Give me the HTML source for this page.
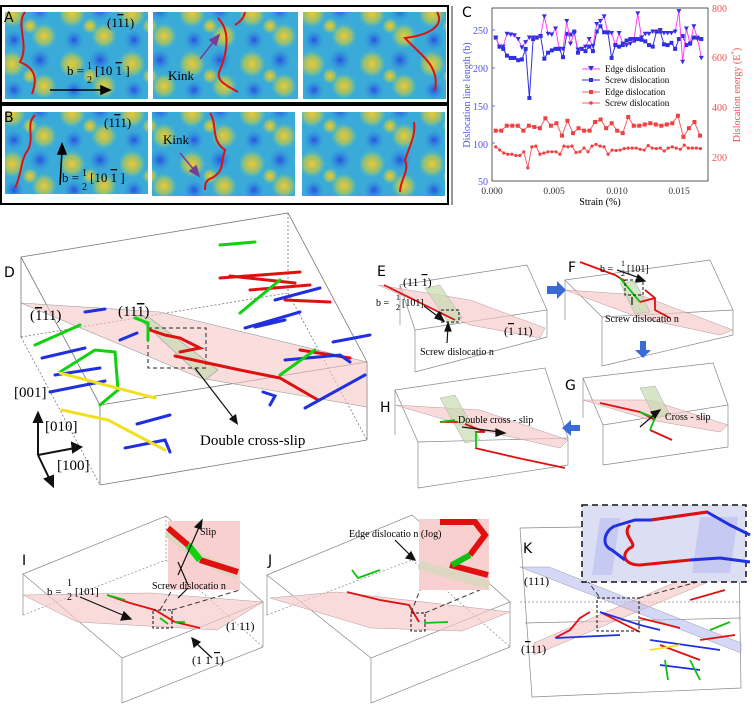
<!DOCTYPE html>
<html><head><meta charset="utf-8"><style>
html,body{margin:0;padding:0;background:#fff;}
svg{display:block;font-family:"Liberation Serif",serif;}
.lab{font-family:"DejaVu Sans","Liberation Sans",sans-serif;font-size:14px;}
</style></head><body>
<svg width="754" height="705" viewBox="0 0 754 705" xmlns="http://www.w3.org/2000/svg">
<defs>
<radialGradient id="y1" cx="50%" cy="50%" r="50%"><stop offset="0" stop-color="#f2c830"/><stop offset="0.6" stop-color="#b8c850" stop-opacity="0.7"/><stop offset="1" stop-color="#5ec8b0" stop-opacity="0"/></radialGradient>
<radialGradient id="b1" cx="50%" cy="50%" r="50%"><stop offset="0" stop-color="#2a4ee0"/><stop offset="1" stop-color="#2a8ee0" stop-opacity="0"/></radialGradient>
<pattern id="terr" width="60" height="50" patternUnits="userSpaceOnUse">
<rect width="60" height="50" fill="#3aaad8"/>
<circle cx="12" cy="14" r="14" fill="url(#y1)"/><circle cx="44" cy="36" r="13" fill="url(#y1)"/>
<circle cx="40" cy="10" r="11" fill="url(#b1)"/><circle cx="14" cy="40" r="10" fill="url(#b1)"/>
<circle cx="30" cy="26" r="8" fill="url(#y1)"/>
</pattern>
</defs>
<!-- A/B frames -->
<rect x="1" y="6" width="447" height="97" fill="none" stroke="#000" stroke-width="2"/>
<rect x="1" y="105" width="447" height="99" fill="none" stroke="#000" stroke-width="2"/>
<rect x="5" y="12" width="143" height="87" fill="url(#terr)"/>
<rect x="153" y="12" width="145" height="87" fill="url(#terr)"/>
<rect x="303" y="12" width="143" height="87" fill="url(#terr)"/>
<rect x="5" y="112" width="143" height="82" fill="url(#terr)"/>
<rect x="152" y="112" width="143" height="84" fill="url(#terr)"/>
<rect x="302" y="112" width="143" height="84" fill="url(#terr)"/>
<g fill="none" stroke="#e01010" stroke-width="2">
<path d="M25,12 C15,25 30,45 20,62 C40,70 35,85 32,94"/>
<path d="M218,18 C230,30 228,50 220,70 C215,80 225,85 238,92"/>
<path d="M245,12 C244,18 240,22 235,25"/>
<path d="M437,12 C445,25 430,35 405,38 C420,55 440,65 435,90"/>
<path d="M35,115 C25,125 35,135 28,150 C20,160 22,175 15,188"/>
<path d="M210,113 C218,125 210,140 225,150 C220,165 225,170 212,178 C205,180 205,185 205,190"/>
<path d="M414,122 C416,135 410,145 405,160 C410,170 400,180 400,192"/>
</g>
<g font-size="13">
<text x="4" y="22" class="lab" font-size="13">A</text>
<text x="4" y="122" class="lab" font-size="13">B</text>
<text x="107" y="27">(1<tspan text-decoration="overline">1</tspan>1)</text>
<text x="104" y="127">(1<tspan text-decoration="overline">1</tspan>1)</text>
<text x="168" y="80">Kink</text>
<text x="163" y="144">Kink</text>
<text x="67" y="75">b = </text><text x="87" y="69" font-size="10">1</text><text x="87" y="83" font-size="10">2</text><text x="95" y="75">[10 <tspan text-decoration="overline">1</tspan> ]</text>
<text x="62" y="182">b = </text><text x="82" y="176" font-size="10">1</text><text x="82" y="190" font-size="10">2</text><text x="90" y="182">[10 <tspan text-decoration="overline">1</tspan> ]</text>
</g>
<g stroke="#000" stroke-width="1.5" fill="#000">
<line x1="50" y1="90" x2="105" y2="90"/><polygon points="110,90 101,86 101,94"/>
<line x1="60" y1="185" x2="62" y2="150"/><polygon points="62,144 58,154 66,154"/>
</g>
<g stroke="#7a3a9a" stroke-width="1.5" fill="#7a3a9a">
<line x1="200" y1="59" x2="215" y2="40"/><polygon points="219,35 210,40 216,45"/>
<line x1="180" y1="153" x2="195" y2="171"/><polygon points="199,176 190,171 196,166"/>
</g>

<!-- Chart C -->
<g id="chart">
<line x1="452" y1="6" x2="452" y2="205" stroke="#333" stroke-width="1"/>
<text x="462" y="17" class="lab" font-size="13">C</text>
<rect x="492" y="8" width="216" height="173" fill="none" stroke="#333" stroke-width="0.8"/>
<g font-size="10" fill="#5050f0" text-anchor="end">
<text x="488" y="34">250</text><text x="488" y="72">200</text><text x="488" y="110">150</text><text x="488" y="148">100</text><text x="488" y="185">50</text>
</g>
<g stroke="#5050f0" stroke-width="0.8"><line x1="492" y1="30" x2="495" y2="30"/><line x1="492" y1="68" x2="495" y2="68"/><line x1="492" y1="106" x2="495" y2="106"/><line x1="492" y1="143" x2="495" y2="143"/></g>
<g font-size="10" fill="#f05050">
<text x="712" y="12">800</text><text x="712" y="61">600</text><text x="712" y="111">400</text><text x="712" y="161">200</text>
</g>
<g font-size="9.5" fill="#333" text-anchor="middle">
<text x="492" y="194">0.000</text><text x="554" y="194">0.005</text><text x="617" y="194">0.010</text><text x="679" y="194">0.015</text>
</g>
<text x="600" y="205" font-size="10" text-anchor="middle">Strain (%)</text>
<text transform="translate(470,95) rotate(-90)" font-size="10" fill="#5050f0" text-anchor="middle">Dislocation line length (b)</text>
<text transform="translate(740,95) rotate(-90)" font-size="10" fill="#f05050" text-anchor="middle">Dislocation energy (E<tspan font-size="7" dy="-4">*</tspan><tspan dy="4">)</tspan></text>
<g id="series"></g>
<g font-size="9">
<line x1="582" y1="69" x2="600" y2="69" stroke="#ff40ff"/><polygon points="588,66 594,66 591,71" fill="#3030e0"/><text x="605" y="72">Edge dislocation</text>
<line x1="582" y1="80" x2="600" y2="80" stroke="#3030e0"/><rect x="589" y="78" width="4" height="4" fill="#3030e0"/><text x="605" y="83">Screw dislocation</text>
<line x1="582" y1="92" x2="600" y2="92" stroke="#f06060"/><rect x="589" y="90" width="4" height="4" fill="#f04040"/><text x="605" y="95">Edge dislocation</text>
<line x1="582" y1="103" x2="600" y2="103" stroke="#f06060"/><circle cx="591" cy="103" r="1.8" fill="#f04040"/><text x="605" y="106">Screw dislocation</text>
</g>
</g>

<!-- Panel D -->
<g fill="none" stroke="#777" stroke-width="0.8">
<polygon points="21,257 288,213 367,362 100,405"/>
<line x1="21" y1="257" x2="21" y2="337"/><line x1="100" y1="405" x2="100" y2="485"/><line x1="367" y1="362" x2="367" y2="440"/>
<line x1="100" y1="485" x2="367" y2="440"/>
<line x1="21" y1="337" x2="100" y2="485" stroke-dasharray="2,2"/>
<line x1="21" y1="337" x2="288" y2="293" stroke-dasharray="2,2"/>
<line x1="288" y1="213" x2="288" y2="293" stroke-dasharray="2,2"/>
<line x1="288" y1="293" x2="367" y2="440" stroke-dasharray="2,2"/>
</g>
<polygon points="21,303 160,312 367,362 367,407 200,378" fill="#f6c8c8" fill-opacity="0.6" stroke="#999" stroke-width="0.6"/>
<polygon points="135,315 150,318 218,370 205,380" fill="#c8dcb0" fill-opacity="0.7" stroke="#999" stroke-width="0.6"/>
<rect x="148" y="328" width="58" height="40" fill="none" stroke="#222" stroke-dasharray="4,3" stroke-width="1"/>
<g fill="none" stroke-width="3" stroke-linecap="round">
<g stroke="#e01010">
<path d="M150,330 L165,335 L180,338 L200,348 L180,352"/><path d="M175,356 L240,370 L280,378 L318,400"/>
<path d="M220,278 L300,272 M230,276 L295,283 M250,290 L310,285 M285,300 L330,302 M350,358 L300,350"/>
</g>
<g stroke="#2030e0">
<path d="M42,358 L85,348 M55,375 L100,368 M50,392 L105,381 M120,340 L137,333 M137,424 L170,415 M125,448 L165,440 L170,452"/>
<path d="M275,300 L320,288 M245,328 L300,312 M255,327 L285,320 M333,342 L370,335 M285,360 L340,355 L350,362 M305,408 L365,375 M263,392 L275,396 L270,405"/>
<path d="M85,312 L105,309"/>
</g>
<g stroke="#10d010">
<path d="M35,345 L80,325 M60,372 L95,350 L115,352 L118,390 L100,405 M220,245 L255,242 M135,318 L148,323 L148,340"/>
<path d="M240,313 L280,280 M280,375 L315,350"/>
</g>
<g stroke="#f0e020"><path d="M60,373 L155,398 M62,410 L108,420 L165,450"/></g>
</g>
<line x1="195" y1="368" x2="235" y2="420" stroke="#111" stroke-width="1.2"/><polygon points="238,425 229,419 236,414" fill="#111"/>
<text x="200" y="445" font-size="15">Double cross-slip</text>
<text x="4" y="277" class="lab" font-size="14">D</text>
<text x="30" y="320" font-size="15">(<tspan text-decoration="overline">1</tspan>11)</text>
<text x="118" y="316" font-size="15">(11<tspan text-decoration="overline">1</tspan>)</text>
<text x="14" y="397" font-size="15">[001]</text>
<text x="45" y="431" font-size="15">[010]</text>
<text x="57" y="470" font-size="15">[100]</text>
<g stroke="#111" stroke-width="2" fill="#111">
<line x1="38" y1="455" x2="38" y2="418"/><polygon points="38,413 34,422 42,422"/>
<line x1="38" y1="455" x2="75" y2="448"/><polygon points="81,447 72,443 73,452"/>
<line x1="38" y1="455" x2="50" y2="480"/><polygon points="53,486 45,479 53,476"/>
</g>

<!-- box outlines -->
<g fill="none" stroke="#888" stroke-width="0.7">
<!-- E -->
<polygon points="400,285 527,265 547,310 415,330"/><line x1="415" y1="330" x2="415" y2="372"/><line x1="547" y1="310" x2="547" y2="337"/><line x1="415" y1="372" x2="547" y2="337"/><line x1="400" y1="285" x2="400" y2="325"/>
<!-- F -->
<polygon points="565,280 710,260 733,310 602,317"/><line x1="602" y1="317" x2="602" y2="366"/><line x1="733" y1="310" x2="733" y2="335"/><line x1="602" y1="366" x2="733" y2="335"/><line x1="565" y1="280" x2="565" y2="320"/>
<!-- G -->
<polygon points="583,378 713,363 728,405 603,425"/><line x1="603" y1="425" x2="603" y2="465"/><line x1="728" y1="405" x2="728" y2="447"/><line x1="603" y1="465" x2="728" y2="447"/><line x1="583" y1="378" x2="583" y2="418"/>
<!-- H -->
<polygon points="395,390 545,368 568,438 418,442"/><line x1="418" y1="442" x2="418" y2="488"/><line x1="568" y1="438" x2="568" y2="465"/><line x1="418" y1="488" x2="568" y2="465"/><line x1="395" y1="390" x2="395" y2="435"/>
<!-- I -->
<polygon points="23,574 166,516 263,602 122,658"/><line x1="122" y1="658" x2="122" y2="703"/><line x1="263" y1="602" x2="263" y2="647"/><line x1="122" y1="703" x2="263" y2="647"/><line x1="23" y1="574" x2="23" y2="615"/>
<line x1="23" y1="615" x2="166" y2="560" stroke-dasharray="2,2"/><line x1="166" y1="516" x2="166" y2="560" stroke-dasharray="2,2"/><line x1="166" y1="560" x2="263" y2="647" stroke-dasharray="2,2"/>
<!-- J -->
<polygon points="267,575 412,515 510,602 371,658"/><line x1="371" y1="658" x2="371" y2="703"/><line x1="510" y1="602" x2="510" y2="647"/><line x1="371" y1="703" x2="510" y2="647"/><line x1="267" y1="575" x2="267" y2="615"/>
<line x1="267" y1="615" x2="412" y2="560" stroke-dasharray="2,2"/><line x1="412" y1="560" x2="510" y2="647" stroke-dasharray="2,2"/>
<!-- K -->
<polyline points="583,527 520,528 532,697 741,688 739,562"/>
<line x1="520" y1="602" x2="741" y2="602" stroke-dasharray="2,2"/><line x1="525" y1="623" x2="741" y2="618"/>
</g>
<g fill="#f6c8c8" fill-opacity="0.65" stroke="#b99" stroke-width="0.5">
<polygon points="378,285 470,300 545,328 540,338 470,325"/>
<polygon points="565,290 640,295 733,330 720,335 640,318"/>
<polygon points="583,400 650,400 728,425 720,432 650,420"/>
<polygon points="395,405 480,410 568,440 560,448 480,430"/>
<polygon points="23,595 150,593 263,602 217,630 77,622"/>
<polygon points="270,598 337,592 510,612 462,631 371,628"/>
<polygon points="534,655 534,643 732,558 732,572"/>
</g>
<g fill="#c8dcb0" fill-opacity="0.7" stroke="#aaa" stroke-width="0.5">
<polygon points="425,288 440,285 462,318 450,325"/>
<polygon points="620,283 635,281 650,312 635,314"/>
<polygon points="640,388 655,386 670,415 655,418"/>
<polygon points="440,398 455,395 480,440 465,443"/>
</g>
<polygon points="520,567 549,567 741,643 741,653" fill="#b8bcf0" fill-opacity="0.6" stroke="#99a" stroke-width="0.5"/>
<g fill="none" stroke-width="1.8">
<path d="M384,285 L455,320" stroke="#e01010"/>
<path d="M580,262 L615,275 L625,281 M640,302 L655,298 M645,290 L655,298 L655,310 L670,318" stroke="#e01010"/><path d="M620,278 L640,302" stroke="#10c010"/>
<path d="M600,403 L640,412 L655,420 M650,430 L672,440" stroke="#e01010"/><path d="M640,412 L655,418 L650,430" stroke="#10c010"/>
<path d="M440,422 L458,422 M465,424 L485,432 L475,432 M475,448 L518,458 L565,468" stroke="#e01010"/><path d="M440,422 L455,420 M476,432 L476,448" stroke="#10c010"/>
<path d="M107,595 L130,603 L155,610 L175,622 L200,628" stroke="#e01010"/><path d="M107,595 L125,600 M160,618 L168,624 M175,622 L185,622" stroke="#10c010"/>
<path d="M347,592 L380,600 L409,605 L419,622" stroke="#e01010"/><path d="M424,623 L448,622 M352,570 L358,578 L380,570" stroke="#10c010"/>
<path d="M555,638 L570,630 L580,618 L590,612 M690,600 L725,590 M720,580 L740,575 M640,618 L680,628 M660,645 L700,660 M700,640 L735,635 M600,612 L640,632" stroke="#e01010"/>
<path d="M556,638 L620,635 M650,640 L720,650 M660,665 L700,670 M600,612 L640,625 L660,630" stroke="#2030e0"/><path d="M665,660 L668,680 M690,660 L700,680 M710,630 L730,622" stroke="#10c010"/><path d="M650,650 L680,645" stroke="#f0e020"/>
</g>
<g fill="none" stroke="#111" stroke-dasharray="3,2">
<rect x="441" y="310" width="18" height="12"/><rect x="625" y="280" width="18" height="15"/>
<rect x="153" y="610" width="19" height="18"/><rect x="411" y="613" width="14" height="18"/>
<rect x="597" y="598" width="42" height="33"/>
</g>
<g stroke="#333" stroke-dasharray="5,3" stroke-width="1">
<line x1="160" y1="610" x2="172" y2="590"/><line x1="172" y1="610" x2="240" y2="590"/>
<line x1="411" y1="613" x2="420" y2="590"/><line x1="425" y1="613" x2="489" y2="586"/>
<line x1="582" y1="573" x2="600" y2="598"/><line x1="639" y1="598" x2="730" y2="573"/>
</g>
<!-- insets -->
<rect x="168" y="521" width="72" height="69" fill="#f9d0d0"/>
<path d="M168,532 L200,558 L238,575" stroke="#ddd6c0" stroke-width="10" fill="none"/>
<path d="M168,528 L188,545 M200,560 L238,572" stroke="#e01010" stroke-width="6" fill="none"/><path d="M188,545 L200,560" stroke="#10d010" stroke-width="7"/>
<rect x="419" y="519" width="70" height="71" fill="#f9d0d0"/>
<path d="M419,565 L489,585" stroke="#ddd6c0" stroke-width="9" fill="none"/>
<path d="M440,522 L475,522 L485,535 L470,555 M450,565 L488,575" stroke="#e01010" stroke-width="6" fill="none"/><path d="M470,555 L452,565" stroke="#10c010" stroke-width="6"/>
<rect x="582" y="505" width="164" height="77" fill="#dcdff4" stroke="#111" stroke-dasharray="6,4" stroke-width="1.5"/>
<polygon points="600,518 620,518 612,575 592,575" fill="#b8bcf0" fill-opacity="0.6"/><polygon points="700,517 738,517 730,573 692,573" fill="#b8bcf0" fill-opacity="0.6"/>
<path d="M615,526 L635,520 L651,520 L707,512 L730,525 L750,535 M690,560 L720,558 L750,562" stroke="#2030e0" stroke-width="3" fill="none"/>
<path d="M651,520 L707,512 M630,525 C620,535 640,545 630,548 C620,555 625,565 640,565 L690,560" stroke="#e01010" stroke-width="3" fill="none"/>
<path d="M615,526 C605,530 600,545 612,550 L625,560" stroke="#2030e0" stroke-width="3" fill="none"/>
<g stroke="#111" stroke-width="1.2" fill="#111">
<line x1="424" y1="306" x2="440" y2="318"/><polygon points="444,321 435,318 439,312"/>
<line x1="447" y1="343" x2="448" y2="327"/><polygon points="448,323 445,331 451,331"/>
<line x1="617" y1="270" x2="640" y2="278"/><polygon points="645,281 636,282 638,275"/>
<line x1="632" y1="305" x2="632" y2="297"/>
<line x1="640" y1="427" x2="655" y2="414"/><polygon points="660,410 651,412 655,418"/>
<line x1="462" y1="427" x2="500" y2="432"/><polygon points="505,433 496,429 496,436"/>
<line x1="80" y1="597" x2="125" y2="616"/><polygon points="131,619 121,620 124,612"/>
<line x1="178" y1="598" x2="188" y2="588"/>
<line x1="178" y1="562" x2="188" y2="585"/><line x1="178" y1="575" x2="200" y2="525"/><polygon points="202,520 195,527 201,529"/>
<line x1="212" y1="658" x2="196" y2="643"/><polygon points="192,638 194,647 200,642"/>
<line x1="395" y1="540" x2="411" y2="556"/><polygon points="415,560 406,558 411,552"/>
</g>
<!-- big blue arrows -->
<polygon points="547,286 557,286 557,281 566,290 557,299 557,294 547,294" fill="#3a6ad8"/>
<polygon points="640,341 646,341 646,350 651,350 643,358 635,350 640,350" fill="#3a6ad8"/>
<polygon points="580,425 571,425 571,420 562,428 571,436 571,431 580,431" fill="#3a6ad8"/>
<g font-size="11">
<text x="377" y="276" class="lab" font-size="14">E</text>
<text x="568" y="272" class="lab" font-size="14">F</text>
<text x="565" y="390" class="lab" font-size="14">G</text>
<text x="380" y="412" class="lab" font-size="14">H</text>
<text x="22" y="565" class="lab" font-size="16">I</text>
<text x="268" y="565" class="lab" font-size="16">J</text>
<text x="523" y="553" class="lab" font-size="16">K</text>
<text x="403" y="286" font-size="12">(11 <tspan text-decoration="overline">1</tspan>)</text>
<text x="376" y="306" font-size="10">b =</text><text x="396" y="300" font-size="8">1</text><text x="396" y="310" font-size="8">2</text><text x="402" y="306" font-size="10">[101]</text>
<text x="504" y="335" font-size="12">(<tspan text-decoration="overline">1</tspan> 11)</text>
<text x="420" y="355" font-size="10">Screw dislocatio n</text>
<text x="600" y="272" font-size="10">b =</text><text x="621" y="266" font-size="8">1</text><text x="621" y="276" font-size="8">2</text><text x="627" y="272" font-size="10">[101]</text>
<text x="605" y="322" font-size="10">Screw dislocatio n</text>
<text x="665" y="420" font-size="10">Cross - slip</text>
<text x="458" y="423" font-size="10">Double cross - slip</text>
<text x="47" y="595" font-size="11">b =</text><text x="67" y="586" font-size="10">1</text><text x="67" y="600" font-size="10">2</text><text x="75" y="595" font-size="11">[101]</text>
<text x="152" y="589" font-size="10">Screw dislocatio n</text>
<text x="200" y="535" font-size="10">Slip</text>
<text x="226" y="630" font-size="12">(1 11)</text>
<text x="192" y="664" font-size="12">(1 1 <tspan text-decoration="overline">1</tspan>)</text>
<text x="349" y="537" font-size="10">Edge dislocatio n (Jog)</text>
<text x="524" y="585" font-size="12">(111)</text>
<text x="521" y="653" font-size="12">(<tspan text-decoration="overline">1</tspan>11)</text>
</g>
</svg>
<script>
(function(){
var g=document.getElementById('series');
function X(s){return 492+s/0.005*62.3;}
function YL(v){return 181-(v-50)*151/200;}
function YR(v){return 158-(v-200)*149/600;}
var ns="http://www.w3.org/2000/svg";
var n=56,xs=[];for(var i=0;i<n;i++)xs.push(0.0003+i*0.0003);
var edge=[240,228,228,245,244,243,238,227,234,240,240,240,242,268,245,244,252,225,225,262,232,246,224,225,228,238,229,258,262,268,246,246,230,246,232,230,232,238,272,240,245,245,248,248,250,246,246,246,248,275,208,252,232,255,238,213];
var screw=[240,228,225,216,213,213,210,211,225,160,238,240,242,212,220,223,225,225,214,245,244,248,220,225,222,228,222,248,255,247,247,213,230,228,230,236,238,236,238,237,235,230,228,248,248,231,230,233,225,238,242,230,232,240,240,238];
var ee=[310,310,330,330,330,310,330,325,320,360,330,340,290,350,300,320,310,310,345,355,320,340,310,300,365,330,330,335,340,335,330,335,340,370,285,320,345,290];
var es=[245,232,220,215,215,210,210,225,160,245,248,215,220,225,225,225,215,248,245,248,222,225,240,225,248,255,248,245,215,232,230,232,238,240,240,240,235,232,250,240,238,240,228,240,245,240,235,252,240,240,240,238];
function line(pts,col,mk,c2){
 var p=document.createElementNS(ns,'polyline');p.setAttribute('points',pts.map(function(a){return a.join(',')}).join(' '));
 p.setAttribute('fill','none');p.setAttribute('stroke',col);p.setAttribute('stroke-width','1');g.appendChild(p);
 pts.forEach(function(a){var m;
  if(mk=='t'){m=document.createElementNS(ns,'polygon');m.setAttribute('points',(a[0]-2.5)+','+(a[1]-2)+' '+(a[0]+2.5)+','+(a[1]-2)+' '+a[0]+','+(a[1]+2.5));}
  else if(mk=='s'){m=document.createElementNS(ns,'rect');m.setAttribute('x',a[0]-2);m.setAttribute('y',a[1]-2);m.setAttribute('width',4);m.setAttribute('height',4);}
  else {m=document.createElementNS(ns,'circle');m.setAttribute('cx',a[0]);m.setAttribute('cy',a[1]);m.setAttribute('r',1.6);}
  m.setAttribute('fill',c2);g.appendChild(m);});
}
line(screw.map(function(v,i){return [X(xs[i]),YL(v)]}),'#3030e0','s','#3030e0');
line(edge.map(function(v,i){return [X(xs[i]),YL(v)]}),'#ff40ff','t','#3030e0');
var xe=ee.map(function(v,i){return 0.0003+i*0.000443});
line(ee.map(function(v,i){return [X(xe[i]),YR(v)]}),'#f06060','s','#f04040');
var xq=es.map(function(v,i){return 0.0003+i*0.000322});
line(es.map(function(v,i){return [X(xq[i]),YR(v)]}),'#f06060','c','#f04040');
})();
</script>
</body></html>
